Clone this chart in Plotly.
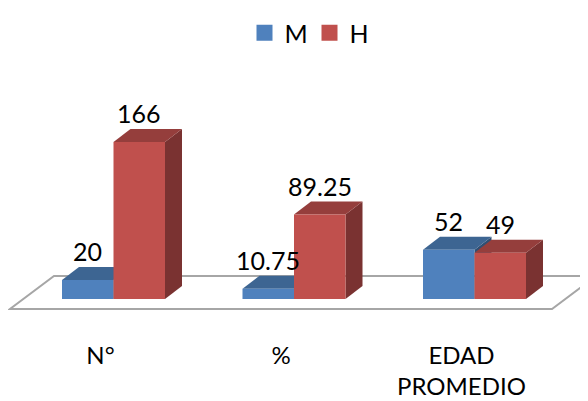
import plotly.graph_objects as go

categories = ["N°", "%", "EDAD<br>PROMEDIO"]
mujeres = [20, 10.75, 52]
hombres = [166, 89.25, 49]
mujeres_labels = ["20", "10.75", "52"]
hombres_labels = ["166", "89.25", "49"]

PAGE = 8          # browser body margin
W, H = 588, 393
PLOT_H = 331      # plot area height on the figure
PX_X = 180.5      # px per category
PX_Y = 0.946      # px per value unit
BASE_PX = 299     # page px of value 0
CENTER_PX = 113.5 # page px of category 0

BW = 51.5 / PX_X
DX = 17 / PX_X
DY = 13 / PX_Y

COL = {
    "M": dict(front="#4F81BD", top="#3D6592", side="#2F4F74"),
    "H": dict(front="#C0504D", top="#953E3C", side="#7A3231"),
}


def px(x):
    return (x - CENTER_PX) / PX_X


def py(y):
    return (BASE_PX - y) / PX_Y


def poly(points, fill, line=None):
    path = "M" + " L".join(f"{a},{b}" for a, b in points) + " Z"
    return dict(type="path", path=path, xref="x", yref="y", layer="below",
                fillcolor=fill,
                line=dict(color=line or fill, width=2 if line else 0))


shapes = [poly([(px(10), py(309)), (px(552), py(309)), (px(596), py(276)), (px(54), py(276))],
               "white", "#A6A6A6")]

for key, vals, x0s in (("M", mujeres, [i - BW for i in range(3)]),
                       ("H", hombres, [float(i) for i in range(3)])):
    for x0, v in zip(x0s, vals):
        x1 = x0 + BW
        shapes.append(poly([(x1, 0), (x1 + DX, DY), (x1 + DX, v + DY), (x1, v)], COL[key]["side"]))
        shapes.append(poly([(x0, v), (x1, v), (x1 + DX, v + DY), (x0 + DX, v + DY)], COL[key]["top"]))

fig = go.Figure()
xs = list(range(3))
fig.add_trace(go.Bar(x=xs, y=mujeres, width=BW, offset=-BW, marker_color=COL["M"]["front"],
                     marker_line_width=0, showlegend=False))
fig.add_trace(go.Bar(x=xs, y=hombres, width=BW, offset=0, marker_color=COL["H"]["front"],
                     marker_line_width=0, showlegend=False))
for name, key in (("M", "M"), ("H", "H")):
    fig.add_trace(go.Scatter(x=[None], y=[None], mode="markers", name=name,
                             marker=dict(symbol="square", size=16, color=COL[key]["front"])))

annotations = []
for i in xs:
    annotations.append(dict(x=i - BW / 2, y=mujeres[i], text=mujeres_labels[i], showarrow=False,
                            yanchor="middle", yshift=29, xref="x", yref="y"))
    annotations.append(dict(x=i + BW / 2, y=hombres[i], text=hombres_labels[i], showarrow=False,
                            yanchor="middle", yshift=29, xref="x", yref="y"))

fig.update_layout(
    width=W, height=H, autosize=False,
    margin=dict(l=0, r=0, t=0, b=H - PLOT_H),
    paper_bgcolor="white", plot_bgcolor="white",
    barmode="overlay",
    font=dict(family="Lato, Carlito, sans-serif", size=25, color="#000000"),
    shapes=shapes, annotations=annotations,
    legend=dict(orientation="h", x=(309.5 - PAGE) / W, xanchor="center", y=1 - 2 / PLOT_H, yanchor="top",
                bgcolor="rgba(0,0,0,0)", font=dict(size=25), entrywidth=20, entrywidthmode="pixels"),
    xaxis=dict(range=[px(PAGE), px(PAGE + W)], tickvals=[i - 13 / PX_X for i in xs], ticktext=categories,
               tickfont=dict(size=24),
               showgrid=False, zeroline=False, showline=False, ticks="", tickangle=0, automargin=False),
    yaxis=dict(range=[py(PAGE + PLOT_H), py(PAGE)], visible=False, automargin=False),
)
fig.write_html("out.html")
